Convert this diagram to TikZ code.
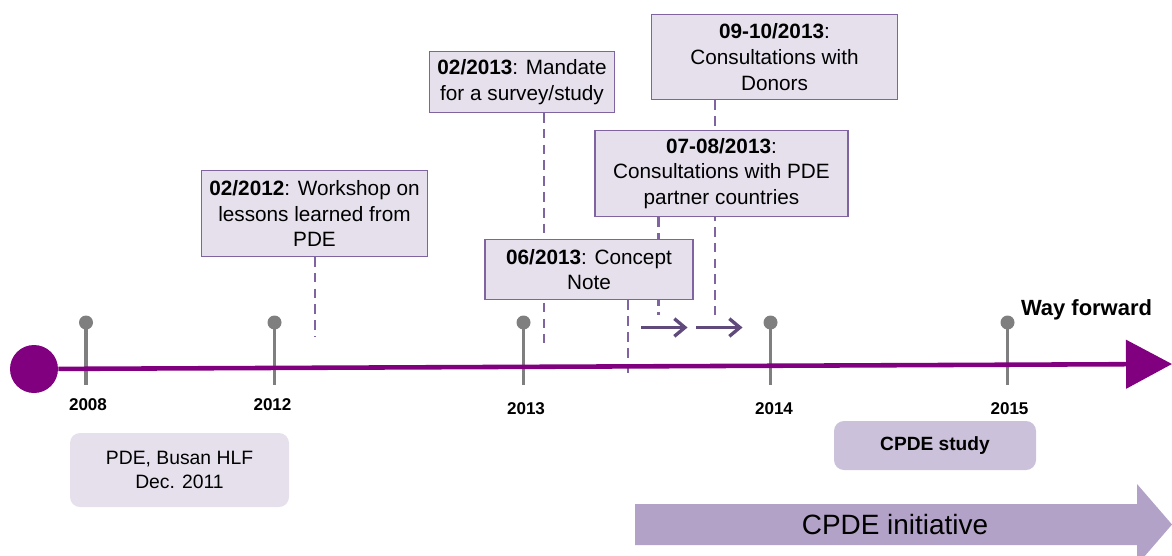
\documentclass[tikz,border=0pt]{standalone}
\usepackage{fontspec}
\setmainfont{Liberation Sans}
\usepackage{xcolor}
\usepackage{tikz}
\usetikzlibrary{positioning,calc,arrows.meta,backgrounds}

\definecolor{plum}{HTML}{800080}
\definecolor{lavfill}{HTML}{E6E0EC}
\definecolor{lavline}{HTML}{8064A2}
\definecolor{lavdark}{HTML}{604A7B}
\definecolor{lavmid}{HTML}{CCC1DA}
\definecolor{lavbar}{HTML}{B3A2C7}
\definecolor{pingray}{HTML}{7F7F7F}

\begin{document}
\begin{tikzpicture}[
		event/.style={draw=lavline, line width=0.8pt, fill=lavfill, align=center, inner sep=0pt, font=\fontsize{11.8}{14.6}\selectfont},
		note/.style={rounded corners=0.2cm, align=center, inner sep=0pt},
		link/.style={lavline, line width=1.2pt, dash pattern=on 5.5pt off 3.5pt},
		pinhead/.style={circle, fill=pingray, minimum size=0.28cm, inner sep=0pt},
		pinstem/.style={pingray, line width=2pt},
		year/.style={font=\bfseries\fontsize{9.7}{11}\selectfont},
		nextstep/.style={lavdark, line width=1.9pt, -{Straight Barb[length=6pt, width=10pt]}}
	]
		\useasboundingbox (0,0) rectangle (23.44,11.1);
		
		\node[event, minimum width=4.53cm, minimum height=1.71cm] (workshop) at (6.29,6.83) {\textbf{02/2012}: Workshop on\\lessons learned from\\PDE};
		\node[event, minimum width=3.69cm, minimum height=1.21cm] (mandate) at (10.44,9.46) {\textbf{02/2013}: Mandate\\for a survey/study};
		\node[event, minimum width=4.92cm, minimum height=1.71cm] (donors) at (15.49,9.96) {\textbf{09-10/2013}:\\Consultations with\\Donors};
		\node[event, minimum width=5.06cm, minimum height=1.71cm] (partners) at (14.43,7.63) {\textbf{07-08/2013}:\\Consultations with PDE\\partner countries};
		\node[event, minimum width=4.16cm, minimum height=1.21cm] (concept) at (11.78,5.71) {\textbf{06/2013}: Concept\\Note};
		
		\coordinate (e1) at (6.3,4.36);
		\coordinate (e2) at (10.88,4.24);
		\coordinate (e3) at (14.3,4.8);
		\coordinate (e4) at (13.17,4.8);
		\coordinate (e5) at (12.56,3.64);
		
		\begin{scope}[on background layer]
			\draw[link] (workshop.south -| e1) -- (e1);
			\draw[link] (mandate.south -| e2) -- (e2);
			\draw[link] (donors.south -| e3) -- (e3);
			\draw[link] (partners.south -| e4) -- (e4);
			\draw[link] (concept.south -| e5) -- (e5);
		\end{scope}
		
		\coordinate (a1s) at (12.82,4.55);
		\coordinate (a1e) at (13.75,4.55);
		\coordinate (a2s) at (13.92,4.55);
		\coordinate (a2e) at (14.85,4.55);
		\draw[nextstep] (a1s) -- (a1e);
		\draw[nextstep] (a2s) -- (a2e);
		
		\node[pinhead] (h2008) at (1.72,4.65) {};
		\node[pinhead] (h2012) at (5.49,4.65) {};
		\node[pinhead] (h2013) at (10.47,4.65) {};
		\node[pinhead] (h2014) at (15.41,4.65) {};
		\node[pinhead] (h2015) at (20.15,4.65) {};
		
		\coordinate (f2008) at (1.72,3.4);
		\coordinate (f2012) at (5.49,3.4);
		\coordinate (f2013) at (10.47,3.4);
		\coordinate (f2014) at (15.41,3.4);
		\coordinate (f2015) at (20.15,3.4);
		
		\draw[pinstem] (h2008.center) -- (f2008);
		\draw[pinstem] (h2012.center) -- (f2012);
		\draw[pinstem] (h2013.center) -- (f2013);
		\draw[pinstem] (h2014.center) -- (f2014);
		\draw[pinstem] (h2015.center) -- (f2015);
		
		\node[circle, fill=plum, minimum size=0.96cm, inner sep=0pt] (start) at (0.68,3.72) {};
		\coordinate (tip) at (23.44,3.82);
		\draw[plum, line width=2.6pt, -{Triangle[length=0.92cm, width=0.96cm]}] (start) -- (tip);
		
		\node[year] (y2008) at (1.76,3.0) {2008};
		\node[year] (y2012) at (5.45,3.0) {2012};
		\node[year] (y2013) at (10.52,2.92) {2013};
		\node[year] (y2014) at (15.48,2.92) {2014};
		\node[year] (y2015) at (20.19,2.92) {2015};
		
		\node[font=\bfseries\fontsize{12.5}{14}\selectfont] (way) at (21.73,4.9) {Way forward};
		
		\node[note, fill=lavfill, minimum width=4.38cm, minimum height=1.48cm, font=\fontsize{11}{14}\selectfont] (busan) at (3.59,1.7) {PDE, Busan HLF\\Dec. 2011};
		\node[note, fill=lavmid, minimum width=4.04cm, minimum height=0.98cm, font=\bfseries\fontsize{10.9}{13}\selectfont] (study) at (18.7,2.19) {CPDE study};
		
		\fill[lavbar] (12.7,0.2) -- (12.7,1.02) -- (22.74,1.02) -- (22.74,1.42) -- (23.44,0.61) -- (22.74,-0.2) -- (22.74,0.2) -- cycle;
		\node[font=\fontsize{15.9}{18}\selectfont] (initiative) at (17.9,0.6) {CPDE initiative};
\end{tikzpicture}
\end{document}
